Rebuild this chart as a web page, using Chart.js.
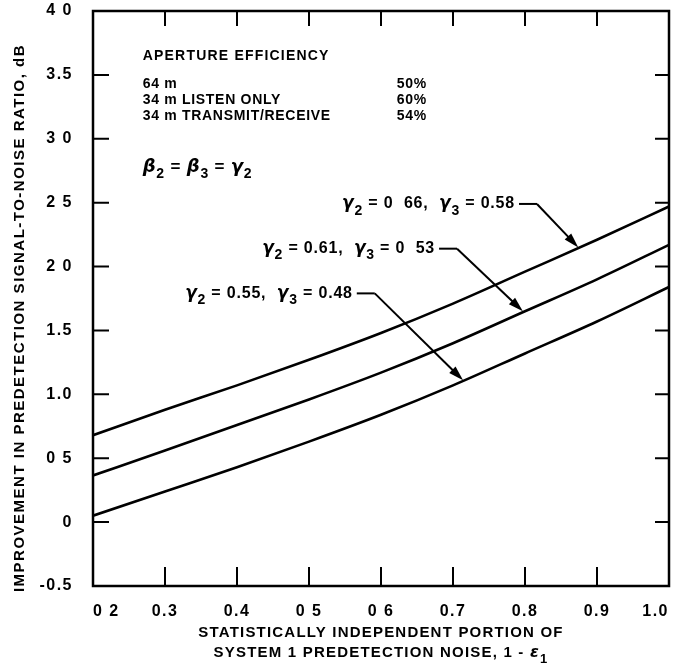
<!DOCTYPE html>
<html>
<head>
<meta charset="utf-8">
<script src="https://cdn.jsdelivr.net/npm/chart.js@4/dist/chart.umd.min.js"></script>
<style>
    html, body { margin: 0; padding: 0; background: #fff; }
    #wrap { width: 676px; height: 668px; }
</style>
</head>
<body>
<div id="wrap"><canvas id="snrChart"></canvas></div>
<script>
// Values
const xValues = [0.2, 0.3, 0.4, 0.5, 0.6, 0.7, 0.8, 0.9, 1.0];
const gainHigh = [0.68, 0.88, 1.07, 1.27, 1.48, 1.71, 1.96, 2.21, 2.47];   // γ2 = 0.66, γ3 = 0.58
const gainMid = [0.365, 0.56, 0.76, 0.96, 1.17, 1.40, 1.65, 1.90, 2.17];   // γ2 = 0.61, γ3 = 0.53
const gainLow = [0.05, 0.24, 0.43, 0.63, 0.84, 1.07, 1.32, 1.57, 1.84];    // γ2 = 0.55, γ3 = 0.48

const xTickValues = [0.2, 0.3, 0.4, 0.5, 0.6, 0.7, 0.8, 0.9, 1.0];
const xTickLabels = ['0 2', '0.3', '0.4', '0 5', '0 6', '0.7', '0.8', '0.9', '1.0'];
const yTickValues = [-0.5, 0, 0.5, 1.0, 1.5, 2.0, 2.5, 3.0, 3.5, 4.0];
const yTickLabels = ['-0.5', '0', '0 5', '1.0', '1.5', '2 0', '2 5', '3 0', '3.5', '4 0'];

const curveNotes = ['γ_2 = 0  66,  γ_3 = 0.58', 'γ_2 = 0.61,  γ_3 = 0  53', 'γ_2 = 0.55,  γ_3 = 0.48'];
const stationNames = ['64 m', '34 m LISTEN ONLY', '34 m TRANSMIT/RECEIVE'];
const stationEfficiency = ['50%', '60%', '54%'];

const yTitle = 'IMPROVEMENT IN PREDETECTION SIGNAL-TO-NOISE RATIO, dB';
const xTitle = ['STATISTICALLY INDEPENDENT PORTION OF', 'SYSTEM 1 PREDETECTION NOISE, 1 - ε_1'];

// where the notes sit, in data units
const noteSpots = [
    { x: 0.546, y: 2.49, tipX: 0.874, tipY: 2.15 },
    { x: 0.435, y: 2.14, tipX: 0.797, tipY: 1.65 },
    { x: 0.328, y: 1.79, tipX: 0.714, tipY: 1.11 }
];

const FONT = '"Liberation Sans", Arial, sans-serif';

function richParts(str) {
    const parts = [];
    for (let i = 0; i < str.length; i++) {
        const c = str[i];
        if (c === '_') { parts.push([str[++i], 'sub']); continue; }
        if ('γβε'.includes(c)) { parts.push([c, 'greek']); continue; }
        const last = parts[parts.length - 1];
        if (last && last[1] === 'main') last[0] += c;
        else parts.push([c, 'main']);
    }
    return parts;
}

function setFont(ctx, kind, size) {
    if (kind === 'sub') ctx.font = `bold ${Math.round(size * 0.85)}px ${FONT}`;
    else if (kind === 'greek') ctx.font = `italic bold ${size + 1}px "DejaVu Sans", sans-serif`;
    else ctx.font = `bold ${size}px ${FONT}`;
}

function richWidth(ctx, str, size) {
    let w = 0;
    richParts(str).forEach(([text, kind]) => {
        setFont(ctx, kind, size);
        w += ctx.measureText(text).width;
    });
    return w;
}

function drawRich(ctx, str, x, y, size) {
    let cx = x;
    richParts(str).forEach(([text, kind]) => {
        setFont(ctx, kind, size);
        const dy = kind === 'sub' ? size * 0.42 : 0;
        ctx.fillText(text, cx, y + dy);
        cx += ctx.measureText(text).width;
    });
    return cx;
}

function drawArrow(ctx, x0, y0, x1, y1) {
    const ang = Math.atan2(y1 - y0, x1 - x0);
    const len = 15, half = 4.5;
    const c = Math.cos(ang), s = Math.sin(ang);
    ctx.beginPath();
    ctx.moveTo(x0, y0);
    ctx.lineTo(x1 - c * len * 0.6, y1 - s * len * 0.6);
    ctx.stroke();
    ctx.beginPath();
    ctx.moveTo(x1, y1);
    ctx.lineTo(x1 - c * len + s * half, y1 - s * len - c * half);
    ctx.lineTo(x1 - c * len - s * half, y1 - s * len + c * half);
    ctx.closePath();
    ctx.fill();
}

// wider letter spacing for the tick labels, like the lettering on the scan
const spacing = {
    id: 'spacing',
    beforeDraw(chart) { chart.ctx.save(); chart.ctx.letterSpacing = '1.5px'; },
    afterDraw(chart) { chart.ctx.restore(); }
};

const frameAndNotes = {
    id: 'frameAndNotes',
    afterDraw(chart) {
        const { ctx, chartArea: a, scales: { x, y } } = chart;
        ctx.save();
        ctx.strokeStyle = '#000';
        ctx.fillStyle = '#000';

        // box
        ctx.lineWidth = 2.5;
        ctx.strokeRect(a.left, a.top, a.right - a.left, a.bottom - a.top);

        // inward ticks on all four sides
        ctx.lineWidth = 2;
        ctx.beginPath();
        xTickValues.slice(1, -1).forEach(v => {
            const px = x.getPixelForValue(v);
            ctx.moveTo(px, a.bottom); ctx.lineTo(px, a.bottom - 19);
            ctx.moveTo(px, a.top); ctx.lineTo(px, a.top + 15);
        });
        yTickValues.slice(1, -1).forEach(v => {
            const py = y.getPixelForValue(v);
            ctx.moveTo(a.left, py); ctx.lineTo(a.left + 16, py);
            ctx.moveTo(a.right, py); ctx.lineTo(a.right - 14, py);
        });
        ctx.stroke();

        ctx.textBaseline = 'middle';

        // y title, rotated
        ctx.save();
        ctx.translate(20, 318);
        ctx.rotate(-Math.PI / 2);
        ctx.textAlign = 'center';
        ctx.letterSpacing = '1.5px';
        ctx.font = `bold 15px ${FONT}`;
        ctx.fillText(yTitle, 0, 0);
        ctx.restore();

        // x title, two centred lines
        ctx.letterSpacing = '1.2px';
        ctx.textAlign = 'left';
        const cx = (a.left + a.right) / 2;
        [633, 653].forEach((ty, i) => {
            const w = richWidth(ctx, xTitle[i], 15);
            drawRich(ctx, xTitle[i], cx - w / 2, ty, 15);
        });

        // aperture efficiency block
        const bx = x.getPixelForValue(0.269);
        const px = x.getPixelForValue(0.622);
        ctx.letterSpacing = '1.2px';
        ctx.font = `bold 14px ${FONT}`;
        ctx.fillText('APERTURE EFFICIENCY', bx, y.getPixelForValue(3.65));
        const rowY = [3.43, 3.30, 3.18];
        ctx.letterSpacing = '0.7px';
        ctx.font = `bold 14px ${FONT}`;
        stationNames.forEach((name, i) => {
            const py = y.getPixelForValue(rowY[i]);
            ctx.fillText(name, bx, py);
            ctx.fillText(stationEfficiency[i], px, py);
        });
        ctx.letterSpacing = '0.8px';
        drawRich(ctx, 'β_2 = β_3 = γ_2', bx, y.getPixelForValue(2.78), 17);

        // curve notes with leader arrows
        ctx.lineWidth = 2;
        curveNotes.forEach((note, i) => {
            const s = noteSpots[i];
            const tx = x.getPixelForValue(s.x);
            const ty = y.getPixelForValue(s.y);
            ctx.letterSpacing = '0.8px';
            const end = drawRich(ctx, note, tx, ty, 16);
            const bend = end + 22;
            ctx.beginPath();
            ctx.moveTo(end + 4, ty);
            ctx.lineTo(bend, ty);
            ctx.stroke();
            drawArrow(ctx, bend, ty, x.getPixelForValue(s.tipX), y.getPixelForValue(s.tipY));
        });
        ctx.restore();
    }
};

function curve(values) {
    return {
        data: xValues.map((v, i) => ({ x: v, y: values[i] })),
        borderColor: '#000',
        borderWidth: 2.6,
        pointRadius: 0,
        tension: 0.4,
        cubicInterpolationMode: 'monotone',
        fill: false
    };
}

new Chart(document.getElementById('snrChart'), {
    type: 'line',
    data: { datasets: [curve(gainHigh), curve(gainMid), curve(gainLow)] },
    options: {
        responsive: true,
        maintainAspectRatio: false,
        animation: false,
        events: [],
        layout: { padding: { top: 11, right: 7, left: 0, bottom: 0 } },
        plugins: {
            legend: { display: false },
            tooltip: { enabled: false }
        },
        scales: {
            x: {
                type: 'linear',
                min: 0.2,
                max: 1.0,
                grid: { display: false },
                border: { display: false },
                afterBuildTicks: s => { s.ticks = xTickValues.map(v => ({ value: v })); },
                afterFit: s => { s.height = 82; s.paddingLeft = 0; s.paddingRight = 0; },
                ticks: {
                    autoSkip: false,
                    maxRotation: 0,
                    align: 'inner',
                    padding: 8,
                    color: '#000',
                    font: { family: FONT, size: 16, weight: 'bold' },
                    callback: (v, i) => xTickLabels[i]
                }
            },
            y: {
                type: 'linear',
                min: -0.5,
                max: 4.0,
                grid: { display: false },
                border: { display: false },
                afterBuildTicks: s => { s.ticks = yTickValues.map(v => ({ value: v })); },
                afterFit: s => { s.width = 93; s.paddingTop = 0; s.paddingBottom = 0; },
                ticks: {
                    autoSkip: false,
                    padding: 12,
                    color: '#000',
                    font: { family: FONT, size: 16, weight: 'bold' },
                    callback: (v, i) => yTickLabels[i]
                }
            }
        }
    },
    plugins: [spacing, frameAndNotes]
});
</script>
</body>
</html>
